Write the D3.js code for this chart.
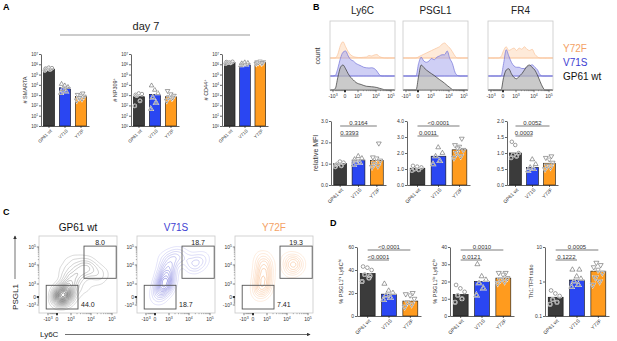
<!DOCTYPE html>
<html>
<head>
<meta charset="utf-8">
<script src="https://cdn.jsdelivr.net/npm/d3@7"></script>
<style>
  body { margin: 0; background: #fff; }
  svg { font-family: Arial, "Liberation Sans", sans-serif; }
</style>
</head>
<body>
<svg id="fig" width="617" height="341"></svg>
<script>
// Multi-panel figure: day 7 counts (A), MFI histograms + bars (B), PSGL1/Ly6C contours (C), subset bars (D).

const GROUPS = ['GP61 wt', 'V71S', 'Y72F'];
const BAR = ['#3b3b3b', '#2a46f2', '#ff9b1e'];
const LABEL_COL = ['#111', '#3e3ed2', '#f4a266'];
const INK = '#222';

// ---- A: absolute numbers (log axis)
const LOG_TICKS = [1, 10, 100, 1e3, 1e4, 1e5, 1e6, 1e7];
const smartaMean = [3.5e5, 5.2e3, 7.2e2];
const smartaPts = [[2.6e5, 3.1e5, 3.6e5, 4.3e5, 4.8e5, 3.9e5], [1.6e3, 2.2e3, 3.8e3, 6e3, 8.5e3, 1.2e4], [3.2e2, 4.5e2, 6e2, 7.5e2, 9e2, 1.1e3, 1.5e3, 5.5e2]];
const np309Mean = [7e2, 1.2e3, 7e2];
const np309Pts = [[90, 280, 900, 1300, 1500, 1100], [45, 180, 600, 1500, 3200, 8500], [300, 480, 650, 900, 1250, 2600, 600]];
const cd44Mean = [1.55e6, 1.1e6, 1.5e6];
const cd44Pts = [[1.2e6, 1.4e6, 1.6e6, 1.8e6, 1.5e6, 1.7e6], [0.8e6, 0.95e6, 1.1e6, 1.3e6, 1.5e6, 1.2e6], [1.2e6, 1.35e6, 1.5e6, 1.7e6, 1.9e6, 1.6e6, 1.4e6]];

// ---- B: histograms (relative height per channel, 26 channels across the axis)
const ly6cWT   = [0,0,0.05,0.5,0.9,1.0,0.85,0.65,0.5,0.4,0.3,0.25,0.22,0.18,0.15,0.14,0.13,0.12,0.1,0.07,0.04,0.01,0,0,0,0];
const ly6cV71S = [0,0,0.02,0.3,0.7,0.95,1.0,0.8,0.65,0.6,0.5,0.45,0.4,0.35,0.33,0.32,0.33,0.3,0.2,0.05,0,0,0,0,0,0];
const ly6cY72F = [0,0,0,0.15,0.5,0.65,0.45,0.25,0.12,0.06,0.03,0.02,0.02,0.03,0.04,0.1,0.08,0.12,0.14,0.06,0.02,0,0,0,0,0];
const psglWT   = [0,0,0,0,0,0,0.55,1.0,0.9,0.8,0.72,0.65,0.58,0.5,0.42,0.35,0.27,0.18,0.1,0.02,0,0,0,0,0,0];
const psglV71S = [0,0,0,0,0,0,0.5,0.75,0.6,0.55,0.6,0.7,0.65,0.75,0.8,0.85,0.85,1.0,0.7,0.5,0.15,0.02,0,0,0,0];
const psglY72F = [0,0,0,0,0,0,0.05,0.1,0.15,0.2,0.25,0.3,0.35,0.4,0.45,0.55,0.6,0.5,0.4,0.25,0.08,0,0,0,0,0];
const fr4WT    = [0,0,0,0,0,0,0.5,0.8,0.85,0.65,0.5,0.45,0.55,0.65,0.8,0.95,1.0,0.9,0.8,0.6,0.35,0.12,0,0,0,0];
const fr4V71S  = [0,0,0,0,0,0,0.5,1.05,0.8,0.55,0.4,0.35,0.35,0.3,0.3,0.35,0.4,0.45,0.35,0.25,0.05,0,0,0,0,0];
const fr4Y72F  = [0,0,0,0,0,0.05,0.3,0.45,0.3,0.35,0.4,0.3,0.4,0.35,0.45,0.35,0.3,0.35,0.15,0.05,0,0,0,0,0,0];
const BIEX_TICKS = [-1, 0, 1, 2, 3];
const BIEX_LABELS = [['-10', '3'], ['0', ''], ['10', '3'], ['10', '4'], ['10', '5']];

// ---- B: relative MFI bars
const ly6cMfi = [1.0, 1.17, 1.15];
const ly6cMfiPts = [[0.85, 0.9, 1.0, 1.05, 1.1, 0.95], [0.95, 1.05, 1.15, 1.25, 1.35, 1.2], [0.85, 0.9, 1.0, 1.15, 1.25, 1.3, 1.95]];
const psglMfi = [1.05, 1.8, 2.2];
const psglMfiPts = [[0.9, 0.95, 1.0, 1.1, 1.15, 1.2], [1.3, 1.5, 1.8, 2.0, 2.35], [1.7, 1.8, 2.0, 2.2, 2.4, 2.5, 2.9, 2.3]];
const fr4Mfi = [1.0, 0.55, 0.68];
const fr4MfiPts = [[0.85, 0.9, 0.95, 1.0, 1.25, 1.35], [0.45, 0.5, 0.55, 0.65, 0.8], [0.5, 0.55, 0.6, 0.7, 0.8, 0.85, 0.9]];
const mfiSig = [['0.3164', '0.3393'], ['<0.0001', '0.0011'], ['0.0052', '0.0003']];

// ---- C: contour anchors [Ly6C, PSGL1, weight] in display decades (-1 = -10^3, 0 = 0, 1 = 10^3 ...)
const wtAnchors = [[0.3,0.1,8],[0.5,0.4,6],[0.2,-0.3,4],[0.7,0.0,3],[0.8,0.9,4],[1.1,1.3,3.5],[1.4,1.6,3],[1.7,1.8,2.5],
  [2.0,1.8,2],[2.3,1.6,1.5],[2.6,1.5,1],[0.6,1.6,1.5],[0.9,2.1,1.2],[1.3,2.2,1.2],[1.8,2.2,1],[1.2,0.4,1.5],[1.7,0.8,1.2],[2.3,1.1,0.8]];
const v71sAnchors = [[0.5,0.6,4],[0.7,1.0,7],[0.8,1.4,6],[0.9,1.8,4],[1.1,2.2,3],[1.3,2.5,2],[0.3,0.2,2],[0.2,-0.3,1],
  [2.2,2.0,3],[2.5,2.2,2],[1.8,2.4,1.5],[2.7,2.4,1],[1.5,2.6,1],[0.6,2.4,1]];
const y72fAnchors = [[0.6,0.6,3],[0.7,1.0,5],[0.75,1.5,6],[0.8,2.0,4],[0.7,2.4,2],[0.5,0.2,1.5],
  [2.2,1.8,3],[2.3,2.2,3],[2.5,2.0,2],[2.0,2.3,1]];
const gateHi = [1.65, 3.2, 1.3, 3.05];   // u0, u1, v0, v1
const gateLo = [-1.2, 1.35, -1.5, 0.9];
const pctHi = ['8.0', '18.7', '19.3'];
const pctLo = ['44.0', '18.7', '7.41'];

// ---- D
const hiHiPct = [37, 19, 13];
const hiHiPts = [[30, 33, 36, 40, 42, 43, 35], [14, 16, 18, 20, 22, 28], [8, 10, 12, 15, 18, 19, 20]];
const loLoPct = [12.5, 20, 22];
const loLoPts = [[8, 10, 12, 14, 16, 18], [12, 16, 19, 21, 23, 30], [19, 20, 21, 22, 24, 25, 25]];
const thRatio = [0.35, 1.1, 2.0];
const thRatioPts = [[0.22, 0.25, 0.3, 0.38, 0.45, 0.55], [0.7, 0.8, 1.0, 1.2, 1.4, 2.2, 2.2], [0.8, 1.0, 1.3, 1.8, 2.2, 2.6, 3.0, 3.5]];
const dSig = [['<0.0001', '<0.0001'], ['0.0010', '0.0121'], ['0.0005', '0.1222']];

const svg = d3.select('#fig');

function supText(sel, base, exp) {
  sel.text(null);
  sel.append('tspan').text(base);
  if (exp !== '' && exp != null) sel.append('tspan').attr('dy', '-0.45em').style('font-size', '0.7em').text(exp);
}

function styleAxis(g, size) {
  g.selectAll('path, line').attr('stroke', INK).attr('stroke-width', 0.7);
  g.selectAll('text').attr('fill', '#333').style('font-size', size + 'px');
}

function richLabel(g, x, y, parts, size) {
  const t = g.append('text').attr('transform', `translate(${x},${y}) rotate(-90)`)
    .attr('text-anchor', 'middle').attr('fill', '#333').style('font-size', size + 'px');
  parts.forEach(p => {
    if (p[1] === 'sup') t.append('tspan').attr('baseline-shift', 'super').style('font-size', (size * 0.7) + 'px').text(p[0]);
    else t.append('tspan').text(p[0]);
  });
}

function barChart(o) {
  const g = svg.append('g');
  const x = d3.scaleBand().domain(GROUPS).range(o.xr).paddingInner(0.3).paddingOuter(0.15);
  const y = (o.log ? d3.scaleLog() : d3.scaleLinear()).domain(o.domain).range(o.yr);
  const base = o.yr[0];
  g.selectAll('rect').data(o.means).join('rect')
    .attr('x', (d, i) => x(GROUPS[i])).attr('width', x.bandwidth())
    .attr('y', d => y(d)).attr('height', d => base - y(d))
    .attr('fill', (d, i) => BAR[i]).attr('stroke', '#111').attr('stroke-width', 0.6);

  o.pts.forEach((arr, i) => {
    const cx = x(GROUPS[i]) + x.bandwidth() / 2;
    const spread = x.bandwidth() * 0.75;
    const sym = d3.symbol().type(i === 0 ? d3.symbolCircle : d3.symbolTriangle).size(o.symSize || 9);
    arr.forEach((v, j) => {
      const dx = (((j * 0.618) % 1) - 0.5) * spread;
      const tr = `translate(${cx + dx},${y(v)}) rotate(${i === 2 ? 180 : 0})`;
      g.append('path').attr('d', sym).attr('transform', tr)
        .attr('fill', 'none').attr('stroke', '#fff').attr('stroke-width', 1.3);
      g.append('path').attr('d', sym).attr('transform', tr)
        .attr('fill', 'none').attr('stroke', '#444').attr('stroke-width', 0.5);
    });
  });

  const ya = d3.axisLeft(y).tickValues(o.ticks).tickSize(2).tickSizeOuter(0).tickPadding(1);
  if (o.fmt) ya.tickFormat(o.fmt);
  const gy = g.append('g').attr('transform', `translate(${o.xr[0]},0)`).call(ya);
  styleAxis(gy, o.tickSize || 5);
  if (o.pow) gy.selectAll('.tick text').each(function (d) { supText(d3.select(this), '10', Math.round(Math.log10(d))); });

  const gx = g.append('g').attr('transform', `translate(0,${base})`)
    .call(d3.axisBottom(x).tickSize(2).tickSizeOuter(0).tickPadding(1));
  styleAxis(gx, o.tickSize || 5);
  gx.selectAll('text').attr('x', 0).attr('y', 0).attr('dy', '0.35em')
    .attr('text-anchor', 'end').attr('transform', 'translate(2,4) rotate(-45)');

  if (o.label) richLabel(g, o.labelX, (o.yr[0] + o.yr[1]) / 2, o.label, o.labelSize || 6);

  if (o.sig) {
    const pairs = [[0, 2], [0, 1]];
    o.sig.forEach((s, k) => {
      const x1 = x(GROUPS[pairs[k][0]]) + x.bandwidth() / 2;
      const x2 = x(GROUPS[pairs[k][1]]) + x.bandwidth() / 2;
      const ly = o.sigY[k];
      g.append('line').attr('x1', x1).attr('x2', x2).attr('y1', ly).attr('y2', ly)
        .attr('stroke', '#444').attr('stroke-width', 0.7);
      g.append('text').attr('x', (x1 + x2) / 2).attr('y', ly - 1.5).attr('text-anchor', 'middle')
        .attr('fill', '#333').style('font-size', '6px').text(s);
    });
  }
}

// ---- A
svg.append('text').attr('x', 3).attr('y', 10).style('font-size', '9px').style('font-weight', 'bold').text('A');
svg.append('text').attr('x', 146).attr('y', 30).attr('text-anchor', 'middle').attr('fill', INK).style('font-size', '11px').text('day 7');
svg.append('line').attr('x1', 60).attr('x2', 250).attr('y1', 35).attr('y2', 35).attr('stroke', '#999').attr('stroke-width', 1);

const aCommon = { log: true, domain: [1, 1e7], yr: [126, 54], ticks: LOG_TICKS, pow: true, tickSize: 4.5, labelSize: 5.5 };
barChart({ ...aCommon, xr: [41, 89], means: smartaMean, pts: smartaPts, labelX: 27, label: [['# SMARTA']] });
barChart({ ...aCommon, xr: [131, 179], means: np309Mean, pts: np309Pts, labelX: 117, label: [['# NP309'], ['+', 'sup']] });
barChart({ ...aCommon, xr: [222, 268], means: cd44Mean, pts: cd44Pts, labelX: 208, label: [['# CD44'], ['+', 'sup']] });

// ---- B histograms
svg.append('text').attr('x', 313).attr('y', 10).style('font-size', '9px').style('font-weight', 'bold').text('B');
const HIST_W = 65, HIST_TOP = 21, HIST_BOT = 90;
const HIST_TICK_POS = [3, 15, 28, 46, 61];

function histPanel(left, title, rows) {
  const g = svg.append('g');
  const x = d3.scaleLinear().domain([0, ly6cWT.length - 1]).range([left, left + HIST_W]);
  const h = d3.scaleLinear().domain([0, 1]).range([0, 25]);
  const u = d3.scaleLinear().domain(BIEX_TICKS).range(HIST_TICK_POS.map(p => left + p));
  g.append('text').attr('x', left + HIST_W / 2).attr('y', 14).attr('text-anchor', 'middle')
    .attr('fill', INK).style('font-size', '10px').text(title);
  rows.forEach(r => {
    g.append('line').attr('x1', left).attr('x2', left + HIST_W).attr('y1', r.base).attr('y2', r.base)
      .attr('stroke', r.stroke).attr('stroke-width', 0.7);
    const area = d3.area().x((d, i) => x(i)).y0(r.base).y1(d => r.base - h(d)).curve(d3.curveMonotoneX);
    g.append('path').datum(r.vals).attr('d', area)
      .attr('fill', r.fill).attr('fill-opacity', r.op).attr('stroke', r.stroke).attr('stroke-width', 0.7);
  });
  g.append('rect').attr('x', left).attr('y', HIST_TOP).attr('width', HIST_W).attr('height', HIST_BOT - HIST_TOP)
    .attr('fill', 'none').attr('stroke', '#c8c8c8').attr('stroke-width', 0.8);
  drawBiexAxis(g, u, HIST_BOT, 'bottom');
}

function minorTicks() {
  const out = [];
  [1, 2].forEach(k => { for (let m = 2; m <= 9; m++) out.push(k + Math.log10(m)); });
  for (let m = 2; m <= 9; m++) out.push(m / 10 - 1);
  return out;
}

function drawBiexAxis(g, s, pos, side) {
  const minors = minorTicks();
  if (side === 'bottom') {
    g.selectAll(null).data(minors).join('line').attr('x1', d => s(d)).attr('x2', d => s(d))
      .attr('y1', pos).attr('y2', pos + 1.2).attr('stroke', '#444').attr('stroke-width', 0.4);
    g.selectAll(null).data(BIEX_TICKS).join('line').attr('x1', d => s(d)).attr('x2', d => s(d))
      .attr('y1', pos).attr('y2', pos + 2.2).attr('stroke', '#333').attr('stroke-width', d => d === 0 ? 2 : 0.6);
    g.selectAll(null).data(BIEX_TICKS).join('text').attr('x', d => s(d)).attr('y', pos + 8)
      .attr('text-anchor', 'middle').attr('fill', '#333').style('font-size', '5px')
      .each(function (d, i) { supText(d3.select(this), BIEX_LABELS[i][0], BIEX_LABELS[i][1]); });
  } else {
    g.selectAll(null).data(minors).join('line').attr('y1', d => s(d)).attr('y2', d => s(d))
      .attr('x1', pos).attr('x2', pos - 1.2).attr('stroke', '#444').attr('stroke-width', 0.4);
    g.selectAll(null).data(BIEX_TICKS).join('line').attr('y1', d => s(d)).attr('y2', d => s(d))
      .attr('x1', pos).attr('x2', pos - 2.2).attr('stroke', '#333').attr('stroke-width', d => d === 0 ? 2 : 0.6);
    g.selectAll(null).data(BIEX_TICKS).join('text').attr('x', pos - 3).attr('y', d => s(d) + 2)
      .attr('text-anchor', 'end').attr('fill', '#333').style('font-size', '5px')
      .each(function (d, i) { supText(d3.select(this), BIEX_LABELS[i][0], BIEX_LABELS[i][1]); });
  }
}

const ROW_STYLE = [
  { base: 58, fill: '#fdd6b4', stroke: '#f9c49c', op: 0.5 },
  { base: 76, fill: '#a8a8ec', stroke: '#7272d8', op: 0.55 },
  { base: 90, fill: '#b3b3b3', stroke: '#333', op: 0.7 }
];
function rowsOf(y72f, v71s, wt) {
  return [y72f, v71s, wt].map((vals, i) => ({ ...ROW_STYLE[i], vals }));
}
histPanel(330, 'Ly6C', rowsOf(ly6cY72F, ly6cV71S, ly6cWT));
histPanel(403, 'PSGL1', rowsOf(psglY72F, psglV71S, psglWT));
histPanel(488, 'FR4', rowsOf(fr4Y72F, fr4V71S, fr4WT));

svg.append('text').attr('transform', 'translate(320,56) rotate(-90)').attr('text-anchor', 'middle')
  .attr('fill', '#333').style('font-size', '7px').text('count');
[['Y72F', 52], ['V71S', 66], ['GP61 wt', 80]].forEach((d, i) => {
  svg.append('text').attr('x', 563).attr('y', d[1]).attr('fill', LABEL_COL[2 - i]).style('font-size', '10px').text(d[0]);
});

// ---- B MFI bars
const bCommon = { yr: [185, 121], sigY: [126, 136], tickSize: 5, symSize: 10 };
barChart({ ...bCommon, xr: [331, 386], domain: [0, 3], ticks: [0, 1, 2, 3], means: ly6cMfi, pts: ly6cMfiPts,
  sig: mfiSig[0], labelX: 318, label: [['relative MFI']], labelSize: 7 });
barChart({ ...bCommon, xr: [407, 470], domain: [0, 4], ticks: [0, 1, 2, 3, 4], means: psglMfi, pts: psglMfiPts, sig: mfiSig[1] });
barChart({ ...bCommon, xr: [507, 558], domain: [0, 2], ticks: [0, 0.5, 1, 1.5, 2], fmt: d3.format('.1f'),
  means: fr4Mfi, pts: fr4MfiPts, sig: mfiSig[2] });

// ---- C contours
svg.append('text').attr('x', 3).attr('y', 215).style('font-size', '9px').style('font-weight', 'bold').text('C');
const C_TOP = 236, C_W = 78, C_H = 77;
const C_U = [9, 18, 32, 52, 73];
const C_V = [305, 297, 284, 265, 247];

function contourPanel(i, left, anchors, lo, hi, nLevels) {
  const g = svg.append('g');
  const u = d3.scaleLinear().domain(BIEX_TICKS).range(C_U.map(p => left + p));
  const v = d3.scaleLinear().domain(BIEX_TICKS).range(C_V);
  g.append('text').attr('x', left + C_W / 2).attr('y', 231).attr('text-anchor', 'middle')
    .attr('fill', LABEL_COL[i]).style('font-size', '10px').text(GROUPS[i]);
  const dens = d3.contourDensity()
    .x(d => u(d[0]) - left).y(d => v(d[1]) - C_TOP).weight(d => d[2])
    .size([C_W, C_H]).cellSize(1).bandwidth(5.5).thresholds(nLevels)(anchors);
  const col = d3.scaleLinear().domain([0, dens.length - 1]).range([lo, hi]);
  const clipId = 'clip' + i;
  g.append('clipPath').attr('id', clipId).append('rect').attr('width', C_W).attr('height', C_H);
  g.append('g').attr('transform', `translate(${left},${C_TOP})`).attr('clip-path', `url(#${clipId})`)
    .selectAll('path').data(dens).join('path').attr('d', d3.geoPath())
    .attr('fill', 'none').attr('stroke', (d, k) => col(k)).attr('stroke-width', 0.5);
  g.append('rect').attr('x', left).attr('y', C_TOP).attr('width', C_W).attr('height', C_H)
    .attr('fill', 'none').attr('stroke', '#c8c8c8').attr('stroke-width', 0.8);
  // gates
  [gateHi, gateLo].forEach(gt => {
    g.append('rect').attr('x', u(gt[0])).attr('y', v(gt[3])).attr('width', u(gt[1]) - u(gt[0]))
      .attr('height', v(gt[2]) - v(gt[3])).attr('fill', 'none').attr('stroke', '#555').attr('stroke-width', 0.9);
  });
  g.append('text').attr('x', (u(gateHi[0]) + u(gateHi[1])) / 2).attr('y', v(gateHi[3]) - 1.5)
    .attr('text-anchor', 'middle').attr('fill', INK).style('font-size', '7px').text(pctHi[i]);
  g.append('text').attr('x', u(gateLo[1]) + 3).attr('y', v(gateLo[2]) - 2)
    .attr('fill', INK).style('font-size', '7px').text(pctLo[i]);
  drawBiexAxis(g, u, C_TOP + C_H, 'bottom');
  drawBiexAxis(g, v, left, 'left');
}
contourPanel(0, 39, wtAnchors, '#b0b0b0', '#262626', 16);
contourPanel(1, 137, v71sAnchors, '#c4c4f2', '#4444cc', 14);
contourPanel(2, 235, y72fAnchors, '#fbd9bd', '#f3a060', 11);

// axis captions with arrows
svg.append('defs').append('marker').attr('id', 'arr').attr('viewBox', '0 0 6 6').attr('refX', 5).attr('refY', 3)
  .attr('markerWidth', 5).attr('markerHeight', 5).attr('orient', 'auto')
  .append('path').attr('d', 'M0,0L6,3L0,6Z').attr('fill', '#333');
svg.append('text').attr('transform', 'translate(18,297) rotate(-90)').attr('text-anchor', 'middle')
  .attr('fill', INK).style('font-size', '8px').text('PSGL1');
svg.append('line').attr('x1', 15).attr('x2', 15).attr('y1', 279).attr('y2', 236)
  .attr('stroke', '#333').attr('stroke-width', 0.7).attr('marker-end', 'url(#arr)');
svg.append('text').attr('x', 40).attr('y', 337).attr('fill', INK).style('font-size', '8px').text('Ly6C');
svg.append('line').attr('x1', 65).attr('x2', 310).attr('y1', 334.5).attr('y2', 334.5)
  .attr('stroke', '#333').attr('stroke-width', 0.7).attr('marker-end', 'url(#arr)');

// ---- D
svg.append('text').attr('x', 330).attr('y', 226).style('font-size', '9px').style('font-weight', 'bold').text('D');
const dCommon = { yr: [316, 247], sigY: [250, 260], tickSize: 5, symSize: 11 };
barChart({ ...dCommon, xr: [357, 421], domain: [0, 60], ticks: [0, 20, 40, 60], means: hiHiPct, pts: hiHiPts,
  sig: dSig[0], labelX: 343, label: [['% PSGL1'], ['hi', 'sup'], [' Ly6C'], ['hi', 'sup']], labelSize: 5.5 });
barChart({ ...dCommon, xr: [450, 514], domain: [0, 40], ticks: [0, 10, 20, 30, 40], means: loLoPct, pts: loLoPts,
  sig: dSig[1], labelX: 437, label: [['% PSGL1'], ['lo', 'sup'], [' Ly6C'], ['lo', 'sup']], labelSize: 5.5 });
barChart({ ...dCommon, xr: [545, 609], log: true, domain: [0.1, 10], ticks: [0.1, 1, 10], fmt: d => String(d),
  means: thRatio, pts: thRatioPts, sig: dSig[2], labelX: 533, label: [['Th1:TFH ratio']], labelSize: 5.5 });
</script>
</body>
</html>
